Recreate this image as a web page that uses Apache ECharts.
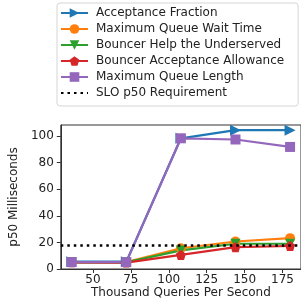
<!DOCTYPE html>
<html>
<head>
<meta charset="utf-8">
<script src="https://cdn.jsdelivr.net/npm/echarts@6/dist/echarts.min.js"></script>
<style>
html,body{margin:0;padding:0;background:#fff;}
#chart{width:301px;height:306px;}
</style>
</head>
<body>
<div id="chart"></div>
<script>
// Data
const qps = [36, 72, 108, 144, 180];
const acceptanceFraction = [5.5, 5.5, 98.3, 104.4, 104.4];
const maxQueueWaitTime = [5.2, 5.2, 15.6, 20.7, 23.2];
const bouncerHelpUnderserved = [5.0, 5.0, 14.0, 19.0, 19.0];
const bouncerAcceptanceAllowance = [5.0, 4.8, 10.6, 16.4, 17.3];
const maxQueueLength = [5.2, 5.2, 98.3, 97.4, 91.8];
const sloRequirement = 18;
const xTicks = [50, 75, 100, 125, 150, 175];
const yTicks = [0, 20, 40, 60, 80, 100];

const font = 'DejaVu Sans';
const pairs = ys => qps.map((x, i) => [x, ys[i]]);

function lineSeries(name, ys, color, symbol, size, rotate) {
  return {
    name: name, type: 'line', data: pairs(ys),
    symbol: symbol, symbolSize: size, symbolRotate: rotate || 0,
    showSymbol: true,
    lineStyle: { color: color, width: 2.2 },
    itemStyle: { color: color },
    emphasis: { disabled: true },
    animation: false
  };
}

const chart = echarts.init(document.getElementById('chart'), null, { renderer: 'canvas' });
chart.setOption({
  animation: false,
  grid: { left: 52, right: -1, top: 125, bottom: 37, show: true, borderColor: '#333', borderWidth: 1, backgroundColor: 'transparent' },
  legend: {
    orient: 'vertical', left: 57, top: 3,
    backgroundColor: '#fff', borderColor: '#d5d5d5', borderWidth: 1, borderRadius: 3,
    padding: [4, 14, 7, 3],
    itemWidth: 27, itemHeight: 12, itemGap: 4,
    textStyle: { fontFamily: font, fontSize: 12, color: '#222', padding: [0, 0, 0, 3] },
    data: ['Acceptance Fraction', 'Maximum Queue Wait Time', 'Bouncer Help the Underserved',
           'Bouncer Acceptance Allowance', 'Maximum Queue Length',
           { name: 'SLO p50 Requirement', itemStyle: { opacity: 0 } }]
  },
  xAxis: {
    type: 'value', min: 28.8, max: 187.2,
    name: 'Thousand Queries Per Second', nameLocation: 'middle', nameGap: 17,
    nameTextStyle: { fontFamily: font, fontSize: 12, color: '#222' },
    axisLine: { show: true, lineStyle: { color: '#333', width: 1 } },
    axisTick: { show: true, length: 4, customValues: xTicks, lineStyle: { color: '#333' } },
    axisLabel: { customValues: xTicks, margin: 5, fontFamily: font, fontSize: 12, color: '#222' },
    splitLine: { show: false }
  },
  yAxis: {
    type: 'value', min: 0, max: 108.3,
    name: 'p50 Milliseconds', nameLocation: 'middle', nameGap: 30,
    nameTextStyle: { fontFamily: font, fontSize: 12, color: '#222' },
    axisLine: { show: true, lineStyle: { color: '#333', width: 1 } },
    axisTick: { show: true, length: 4, customValues: yTicks, lineStyle: { color: '#333' } },
    axisLabel: { customValues: yTicks, margin: 7, fontFamily: font, fontSize: 12, color: '#222' },
    splitLine: { show: false }
  },
  series: [
    lineSeries('Acceptance Fraction', acceptanceFraction, '#1f77b4', 'triangle', 11, -90),
    lineSeries('Maximum Queue Wait Time', maxQueueWaitTime, '#ff7f0e', 'circle', 10),
    lineSeries('Bouncer Help the Underserved', bouncerHelpUnderserved, '#2ca02c', 'triangle', 10, 180),
    lineSeries('Bouncer Acceptance Allowance', bouncerAcceptanceAllowance, '#d62728', 'path://M0,-10 L9.51,-3.09 L5.88,8.09 L-5.88,8.09 L-9.51,-3.09 Z', 10),
    lineSeries('Maximum Queue Length', maxQueueLength, '#9467bd', 'rect', 10),
    {
      name: 'SLO p50 Requirement', type: 'line', data: [],
      symbol: 'none', symbolSize: 0,
      lineStyle: { color: '#000', width: 2.5, type: [2.5, 4] },
      itemStyle: { color: '#000' },
      markLine: {
        silent: true, symbol: 'none', label: { show: false },
        lineStyle: { color: '#000', width: 2.5, type: [2.5, 4] },
        data: [{ yAxis: sloRequirement }]
      },
      animation: false
    }
  ]
});
</script>
</body>
</html>
